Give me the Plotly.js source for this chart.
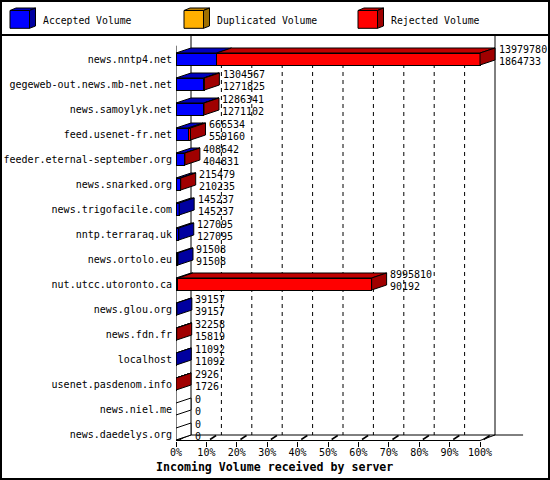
<!DOCTYPE html>
<html>
<head>
<meta charset="utf-8">
<script src="https://cdn.plot.ly/plotly-3.0.1.min.js"></script>
<style>html,body{margin:0;padding:0;background:#fff;}#chart{width:550px;height:480px;}</style>
</head>
<body>
<div id="chart"></div>
<script>
// ---- data ----
const servers = ["news.nntp4.net","gegeweb-out.news.mb-net.net","news.samoylyk.net","feed.usenet-fr.net",
  "feeder.eternal-september.org","news.snarked.org","news.trigofacile.com","nntp.terraraq.uk",
  "news.ortolo.eu","nut.utcc.utoronto.ca","news.glou.org","news.fdn.fr","localhost",
  "usenet.pasdenom.info","news.niel.me","news.daedelys.org"];
const totalVolume = [13979780,1304567,1286341,666534,408642,215479,145237,127095,91508,8995810,39157,32258,11092,2926,0,0];
const acceptedVolume = [1864733,1271825,1271102,559160,404831,210235,145237,127095,91508,90192,39157,15819,11092,1726,0,0];
const duplicatedVolume = [0,0,0,0,0,0,0,0,0,0,0,0,0,0,0,0];
const pctTicks = [0,10,20,30,40,50,60,70,80,90,100];
const pctTickText = ["0%","10%","20%","30%","40%","50%","60%","70%","80%","90%","100%"];
const seriesNames = ["Accepted Volume","Duplicated Volume","Rejected Volume"];

// ---- styling / geometry ----
const FONT = "DejaVu Sans Mono";
const front = ["#0000ff","#ffb000","#ff0000"];
const topC = ["#0000c0","#c08400","#c00000"];
const sideC = ["#0000a0","#a07000","#a00000"];
const L = 176, T = 36, W = 348, H = 405;          // plot area in pixels
const PXPCT = 3.04;                              // pixels per percent
const ROW = 25;                                  // pixels per category
const DX = 15 / PXPCT;                           // depth in x (data units)
const DYB = 5 / ROW;                             // depth in y for bars
const HALF = 0.24;                               // half bar thickness
const xMax = W / PXPCT;
const yTop = (T - 59) / ROW, yBot = (T + H - 59) / ROW;
const floorFront = yBot - 0.5 / ROW, floorBack = yBot - 6 / ROW;
const px = p => (p - L) / W, py = p => (T + H - p) / H;

const maxTotal = Math.max(...totalVolume);
const rows = servers.map((_, i) => i);
const accPct = acceptedVolume.map(v => v / maxTotal * 100);
const dupPct = duplicatedVolume.map(v => v / maxTotal * 100);
const rejPct = totalVolume.map((v, i) => (v - acceptedVolume[i] - duplicatedVolume[i]) / maxTotal * 100);
const segs = [accPct, dupPct, rejPct];

const traces = segs.map((vals, k) => ({
  type: "bar", orientation: "h", x: vals, y: rows, name: seriesNames[k],
  width: 0.48, marker: {color: front[k], line: {color: "#000", width: 1}},
  hoverinfo: "skip", showlegend: false
}));

const shapes = [];
const line = (x0, y0, x1, y1, extra) => Object.assign({type: "line", xref: "x", yref: "y", x0, y0, x1, y1,
  line: {color: "#000", width: 1}, layer: "below"}, extra || {});

// walls, floor and grid
shapes.push(line(DX, yTop, DX, floorBack));
shapes.push(line(0, (45.7 - 59) / ROW, 0, floorFront));
shapes.push(line(100 + DX, yTop, 100 + DX, floorBack));
shapes.push(line(DX, floorBack, xMax - 0.3, floorBack));
shapes.push(line(0, floorFront, 100, floorFront, {layer: "above"}));
shapes.push(line(100, floorFront, 100 + DX, floorBack, {layer: "above"}));
shapes.push(line(0, floorFront, DX, floorBack, {layer: "above"}));
pctTicks.forEach(t => {
  if (t > 0 && t < 100) shapes.push(line(t + DX, (48 - 59) / ROW, t + DX, floorBack, {line: {color: "#000", width: 1, dash: "4px,4px"}}));
  shapes.push(line(t + 1.2, floorFront - 0.04, t + 3.2, floorBack + 0.02, {layer: "above", line: {color: "#000", width: 1.5}}));
});

// 3D faces of the bars
const annotations = [];
rows.forEach(i => {
  const top = i - HALF, bot = i + HALF;
  let start = 0, last = -1;
  segs.forEach((vals, k) => {
    const v = vals[i];
    if (v > 0) {
      shapes.push({type: "path", xref: "x", yref: "y", layer: "above", fillcolor: topC[k],
        line: {color: "#000", width: 1},
        path: `M${start},${top} L${start + v},${top} L${start + v + DX},${top - DYB} L${start + DX},${top - DYB} Z`});
      start += v; last = k;
    }
  });
  shapes.push({type: "path", xref: "x", yref: "y", layer: "above", fillcolor: last >= 0 ? sideC[last] : "#fff",
    line: {color: "#000", width: 1},
    path: `M${start},${top} L${start},${bot} L${start + DX},${bot - DYB} L${start + DX},${top - DYB} Z`});
  const lx = start + DX + 2.5 / PXPCT;
  annotations.push({xref: "x", yref: "y", x: lx, y: i - 0.38, xanchor: "left", yanchor: "middle", showarrow: false,
    text: String(totalVolume[i]), font: {family: FONT, size: 10, color: "#000"}, borderpad: 0});
  annotations.push({xref: "x", yref: "y", x: lx, y: i + 0.08, xanchor: "left", yanchor: "middle", showarrow: false,
    text: String(acceptedVolume[i]), font: {family: FONT, size: 10, color: "#000"}, borderpad: 0});
});

// frame, legend
shapes.push({type: "rect", xref: "paper", yref: "paper", x0: px(1), y0: py(1), x1: px(549), y1: py(479),
  line: {color: "#000", width: 2}, fillcolor: "rgba(0,0,0,0)"});
shapes.push({type: "line", xref: "paper", yref: "paper", x0: px(0), y0: py(35), x1: px(550), y1: py(35),
  line: {color: "#000", width: 2}});
const legendX = [10, 184, 358], legendTextX = [42, 216, 390];
legendX.forEach((x, k) => {
  const P = (a, b) => `${px(a)},${py(b)}`;
  shapes.push({type: "path", xref: "paper", yref: "paper", fillcolor: topC[k], line: {color: "#000", width: 1},
    path: `M${P(x, 10.5)} L${P(x + 19.5, 10.5)} L${P(x + 25.5, 8)} L${P(x + 6, 8)} Z`});
  shapes.push({type: "path", xref: "paper", yref: "paper", fillcolor: sideC[k], line: {color: "#000", width: 1},
    path: `M${P(x + 19.5, 10.5)} L${P(x + 19.5, 28.3)} L${P(x + 25.5, 26)} L${P(x + 25.5, 8)} Z`});
  shapes.push({type: "rect", xref: "paper", yref: "paper", fillcolor: front[k], line: {color: "#000", width: 1},
    x0: px(x), y0: py(10.5), x1: px(x + 19.5), y1: py(28.3)});
  annotations.push({xref: "paper", yref: "paper", x: px(legendTextX[k]), y: py(20.5), xanchor: "left", yanchor: "middle",
    showarrow: false, text: seriesNames[k], font: {family: FONT, size: 9.8, color: "#000"}, borderpad: 0});
});
annotations.push({xref: "paper", yref: "paper", x: px(274), y: py(467), xanchor: "center", yanchor: "middle",
  showarrow: false, text: "<b>Incoming Volume received by server</b>", font: {family: FONT, size: 11.6, color: "#000"}});

const layout = {
  width: 550, height: 480, paper_bgcolor: "#fff", plot_bgcolor: "#fff",
  margin: {l: L, r: 550 - L - W, t: T, b: 480 - T - H, pad: 0},
  barmode: "stack", bargap: 0, showlegend: false,
  font: {family: FONT, size: 10, color: "#000"},
  xaxis: {range: [0, xMax], tickvals: pctTicks, ticktext: pctTickText, ticks: "outside", ticklen: 5,
    tickcolor: "#000", tickwidth: 1, showgrid: false, zeroline: false, showline: false,
    tickfont: {family: FONT, size: 10, color: "#000"}, ticklabelstandoff: -3, fixedrange: true},
  yaxis: {range: [yBot, yTop], tickvals: rows, ticktext: servers, ticks: "", showgrid: false, zeroline: false,
    showline: false, tickfont: {family: FONT, size: 10, color: "#000"}, ticklabelstandoff: 3, fixedrange: true},
  shapes, annotations
};
Plotly.newPlot("chart", traces, layout, {displayModeBar: false, staticPlot: true});
</script>
</body>
</html>
